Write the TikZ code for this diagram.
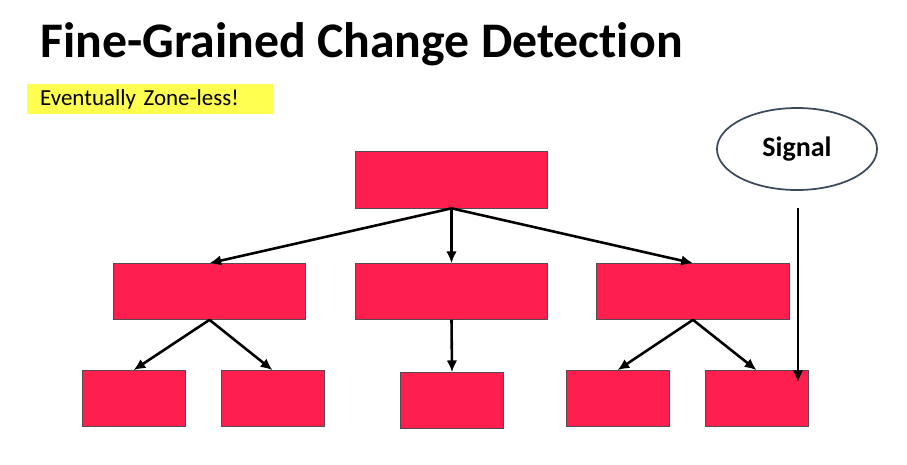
\documentclass[tikz,border=0pt]{standalone}
\usepackage{fontspec}
\setmainfont{Carlito}[Ligatures = NoCommon]
\usepackage{xcolor}
\usetikzlibrary{arrows.meta, shapes.geometric}

\definecolor{boxred}{RGB}{255,31,78}
\definecolor{boxline}{RGB}{85,75,80}
\definecolor{hiyellow}{RGB}{255,255,80}
\definecolor{sigline}{RGB}{60,74,95}

\begin{document}
\begin{tikzpicture}[x = 0.03cm, y = -0.03cm,
  cmp/.style = {draw = boxline, fill = boxred, line width = 0.6pt, outer sep = 0pt,
                minimum width = 5.77cm, minimum height = 1.7cm},
  leaf/.style = {cmp, minimum width = 3.09cm},
  edge/.style = {line width = 2.2pt, -{Latex[length = 10pt, width = 9pt]}}]
\useasboundingbox (0,0) rectangle (907,464);
\node[anchor = base west, inner sep = 0pt, font = \fontsize{42.5}{48}\selectfont\bfseries] (title) at (40,57) {Fine-Grained Change Detection};
\node[anchor = north west, fill = hiyellow, minimum height = 0.9cm, inner xsep = 0.39cm,
      text width = 6.6cm, align = left, font = \fontsize{19.6}{22}\selectfont] (zone) at (27,84) {Eventually Zone-less!};
\node[draw = sigline, line width = 1.5pt, ellipse, minimum width = 4.8cm, minimum height = 2.46cm,
      font = \fontsize{23.9}{26}\selectfont\bfseries] (signal) at (797,149) {Signal};
% tree of components
\node[cmp] (root) at (451.5,180) {};
\node[cmp] (L) at (209.5,291.5) {};
\node[cmp] (M) at (451.5,291.5) {};
\node[cmp] (R) at (693,291.5) {};
\node[leaf] (LL) at (133.5,398.5) {};
\node[leaf] (LR) at (272.5,398.5) {};
\node[leaf] (MM) at (452,400.5) {};
\node[leaf] (RL) at (617.5,398.5) {};
\node[leaf] (RR) at (756.5,398.5) {};
\foreach \i/\j in {root/L, root/M, root/R, L/LL, L/LR, M/MM, R/RL, R/RR}{
\draw[edge] (\i.south) -- (\j.north);
}
\coordinate (sigstart) at (798,208);
\coordinate (sigtip) at (798,382);
\draw[edge, line width = 1.5pt] (sigstart) -- (sigtip);
\end{tikzpicture}
\end{document}
